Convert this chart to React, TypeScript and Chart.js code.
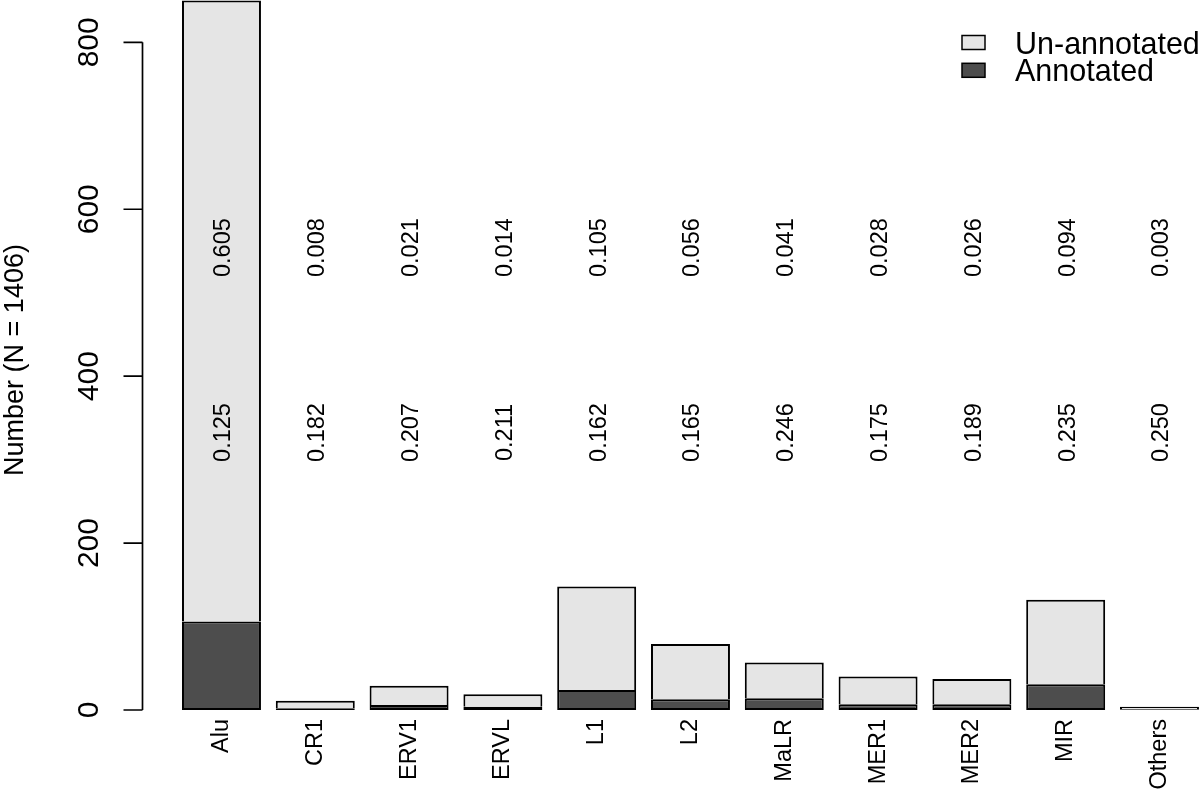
import React, { useEffect, useRef } from "react";
import { Chart, registerables } from "chart.js";

Chart.register(...registerables);

const categories = ["Alu", "CR1", "ERV1", "ERVL", "L1", "L2", "MaLR", "MER1", "MER2", "MIR", "Others"];
const annotated = [106, 2, 6, 4, 24, 13, 14, 7, 7, 31, 1];
const unannotated = [744, 9, 23, 15, 124, 66, 43, 33, 30, 101, 3];
const totalFraction = ["0.605", "0.008", "0.021", "0.014", "0.105", "0.056", "0.041", "0.028", "0.026", "0.094", "0.003"];
const annotatedFraction = ["0.125", "0.182", "0.207", "0.211", "0.162", "0.165", "0.246", "0.175", "0.189", "0.235", "0.250"];
const yTicks = [0, 200, 400, 600, 800];
const yTitle = "Number (N = 1406)";
const legendLabels = ["Un-annotated", "Annotated"];
const totalRowY = 554;
const annotatedRowY = 332.5;

const FONT = '"Liberation Sans", Arial, Helvetica, sans-serif';
const LIGHT = "#E5E5E5";
const DARK = "#4D4D4D";

function rotText(ctx: CanvasRenderingContext2D, s: string, cx: number, cy: number, size: number) {
  ctx.save();
  ctx.translate(cx, cy);
  ctx.rotate(-Math.PI / 2);
  ctx.font = `${size}px ${FONT}`;
  ctx.textAlign = "center";
  ctx.textBaseline = "alphabetic";
  ctx.fillText(s, 0, 0.358 * size);
  ctx.restore();
}

const rPlugin = {
  id: "rstyle",
  afterDraw(chart: any) {
    const ctx: CanvasRenderingContext2D = chart.ctx;
    const y = chart.scales.y;
    const x = chart.scales.x;
    ctx.save();
    // y axis
    const axisX = 142.5;
    ctx.strokeStyle = "#000";
    ctx.lineWidth = 1.7;
    ctx.beginPath();
    ctx.moveTo(axisX, y.getPixelForValue(yTicks[0]));
    ctx.lineTo(axisX, y.getPixelForValue(yTicks[yTicks.length - 1]));
    yTicks.forEach((t) => {
      const py = y.getPixelForValue(t);
      ctx.moveTo(axisX, py);
      ctx.lineTo(123.5, py);
    });
    ctx.stroke();
    ctx.fillStyle = "#000";
    yTicks.forEach((t) => rotText(ctx, String(t), 87.5, y.getPixelForValue(t), 30));
    // y title
    rotText(ctx, yTitle, 13.3, 360, 27);
    // fraction labels
    categories.forEach((_, i) => {
      const px = x.getPixelForValue(i);
      rotText(ctx, totalFraction[i], px + 0.5, y.getPixelForValue(totalRowY), 23.5);
      rotText(ctx, annotatedFraction[i], px + 0.5, y.getPixelForValue(annotatedRowY), 23.5);
    });
    // legend
    const colors = [LIGHT, DARK];
    ctx.lineWidth = 1.5;
    ctx.strokeStyle = "#000";
    ctx.font = `30.5px ${FONT}`;
    ctx.textAlign = "left";
    ctx.textBaseline = "alphabetic";
    legendLabels.forEach((lab, k) => {
      const by = 35.5 + k * 27.8;
      ctx.fillStyle = colors[k];
      ctx.fillRect(962, by, 23, 14);
      ctx.strokeRect(962, by, 23, 14);
      ctx.fillStyle = "#000";
      ctx.fillText(lab, 1015, by + 18);
    });
    ctx.restore();
  },
};

export default function App() {
  const ref = useRef<HTMLCanvasElement>(null);
  useEffect(() => {
    if (!ref.current) return;
    const chart = new Chart(ref.current, {
      type: "bar",
      data: {
        datasets: [
          {
            label: "Annotated",
            data: annotated.map((v, i) => ({ x: i, y: v })),
            backgroundColor: DARK,
            borderColor: "#000",
            borderWidth: 2,
            borderSkipped: false,
            categoryPercentage: 1,
            barPercentage: 0.842,
          },
          {
            label: "Un-annotated",
            data: unannotated.map((v, i) => ({ x: i, y: v })),
            backgroundColor: LIGHT,
            borderColor: "#000",
            borderWidth: 2,
            borderSkipped: "bottom",
            categoryPercentage: 1,
            barPercentage: 0.842,
          },
        ],
      },
      options: {
        responsive: true,
        maintainAspectRatio: false,
        animation: false,
        layout: { padding: { left: 141, top: 0, right: 0, bottom: 0 } },
        plugins: { legend: { display: false }, tooltip: { enabled: false } },
        scales: {
          x: {
            type: "linear",
            stacked: true,
            offset: false,
            min: -0.858,
            max: 10.432,
            grid: { display: false, drawTicks: false, offset: false },
            border: { display: false },
            afterBuildTicks: (s: any) => {
              s.ticks = categories.map((_, i) => ({ value: i }));
            },
            afterFit: (s: any) => {
              s.height = 89;
            },
            ticks: {
              autoSkip: false,
              minRotation: 90,
              maxRotation: 90,
              padding: 9,
              color: "#000",
              font: { family: FONT, size: 23.5 },
              callback: (v: any) => categories[v] ?? "",
            },
          },
          y: { display: false, stacked: true, min: 0, max: 850.7 },
        },
      },
      plugins: [rPlugin],
    } as any);
    return () => chart.destroy();
  }, []);
  return (
    <div style={{ position: "fixed", left: 0, top: 0, width: 1200, height: 799, background: "#fff" }}>
      <canvas ref={ref} />
    </div>
  );
}
